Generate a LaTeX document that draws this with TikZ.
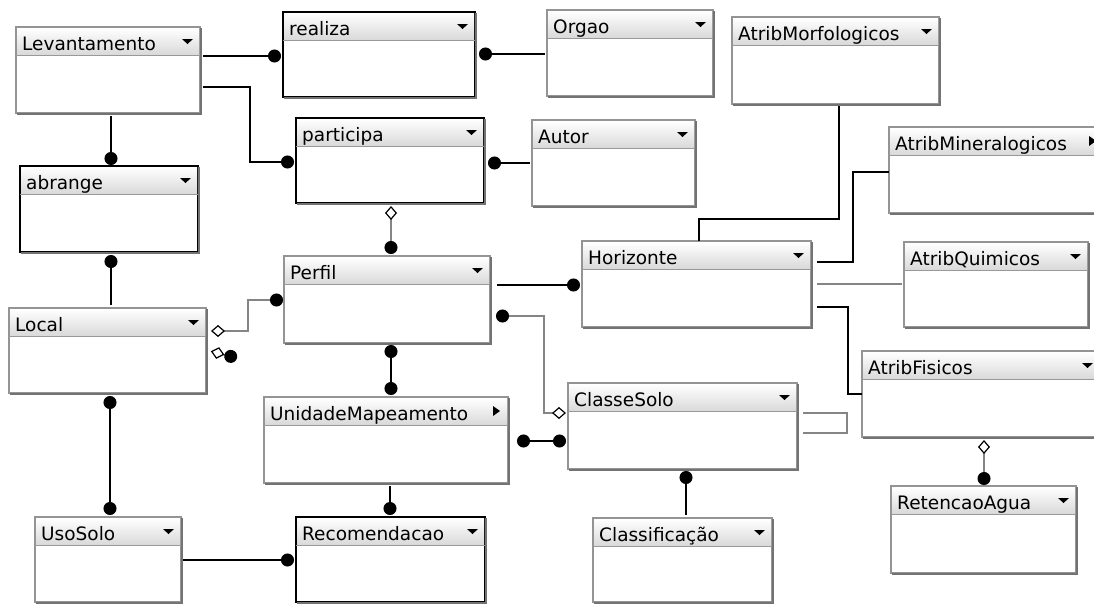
\documentclass[tikz,border=0pt]{standalone}
\usepackage{fontspec}
\setmainfont{DejaVu Sans}
\usetikzlibrary{arrows.meta,calc}
\tikzset{
  x=1pt, y=-1pt,
  Dt/.tip={Circle[length=13pt,color=black,fill=black]},
  Dm/.tip={Diamond[length=14pt,width=12pt,line width=1.2pt,color=black,fill=white]},
  bl/.style={draw=black, line width=1.4pt},
  gr/.style={draw=black!48, line width=1.3pt},
  ebox/.style={draw=black!42, fill=white, line width=1.4pt, inner sep=0pt, outer sep=0pt},
  rbox/.style={draw=black, fill=white, line width=1.8pt, inner sep=0pt, outer sep=0pt},
  hdrline/.style={draw=black!40, line width=1pt},
  etext/.style={anchor=base west, inner sep=0pt, font=\fontsize{18.5}{22}\selectfont, text=black},
}
\newcommand\entbox[7]{%
  \node[#7, anchor=north west, minimum width={(#4)-(#2)}, minimum height={(#5)-(#3)}] (#1) at (#2,#3) {};
  \shade[top color=white, bottom color=black!15] ([shift={(1pt,-1pt)}]#1.north west) rectangle ([shift={(-1pt,-28pt)}]#1.north east);
  \draw[hdrline] ([yshift=-28pt]#1.north west) -- ([yshift=-28pt]#1.north east);
  \draw[black!55, line width=2.2pt] ([shift={(1pt,-1pt)}]#1.north east) -- ([shift={(1pt,-1pt)}]#1.south east) -- ([shift={(1pt,-1pt)}]#1.south west);
  \node[etext] (#1t) at ([shift={(6pt,-23pt)}]#1.north west) {#6};
}
\newcommand\tridown[1]{\fill ([xshift=-18pt,yshift=-12pt]#1.north east) -- ++(11,0) -- ++(-5.5,5) -- cycle;}
\newcommand\triright[1]{\fill ([xshift=-15pt,yshift=-9pt]#1.north east) -- ++(7,5) -- ++(-7,5) -- cycle;}
\begin{document}
\begin{tikzpicture}
\useasboundingbox (0,0) rectangle (1094,603);
\fill[white] (0,0) rectangle (1094,603);
\clip (0,0) rectangle (1094,603);

% entities
\entbox{lev}{16}{27}{200}{113}{Levantamento}{ebox}\tridown{lev}
\entbox{real}{283}{12}{475}{97}{realiza}{rbox}\tridown{real}
\entbox{org}{547}{10}{713}{96}{Orgao}{ebox}\tridown{org}
\entbox{part}{296}{118}{484}{203}{participa}{rbox}\tridown{part}
\entbox{aut}{532}{120}{695}{206}{Autor}{ebox}\tridown{aut}
\entbox{mor}{732}{17}{939}{104}{AtribMorfologicos}{ebox}\tridown{mor}
\entbox{min}{889}{127}{1104}{213}{AtribMineralogicos}{ebox}\triright{min}
\entbox{abr}{20}{166}{198}{252}{abrange}{rbox}\tridown{abr}
\entbox{loc}{9}{308}{206}{393}{Local}{ebox}\tridown{loc}
\entbox{perf}{284}{256}{490}{343}{Perfil}{ebox}\tridown{perf}
\entbox{hor}{582}{241}{811}{327}{Horizonte}{ebox}\tridown{hor}
\entbox{qui}{904}{242}{1088}{327}{AtribQuimicos}{ebox}\tridown{qui}
\entbox{fis}{862}{351}{1100}{437}{AtribFisicos}{ebox}\tridown{fis}
\entbox{um}{264}{397}{508}{483}{UnidadeMapeamento}{ebox}\triright{um}
\entbox{cls}{568}{383}{797}{469}{ClasseSolo}{ebox}\tridown{cls}
\entbox{ret}{891}{486}{1076}{573}{RetencaoAgua}{ebox}\tridown{ret}
\entbox{uso}{35}{517}{181}{602}{UsoSolo}{ebox}\tridown{uso}
\entbox{rec}{296}{517}{485}{602}{Recomendacao}{rbox}\tridown{rec}
\entbox{clf}{593}{518}{772}{602}{Classificação}{ebox}\tridown{clf}

% connectors
\draw[bl, -Dt, shorten <=3pt, shorten >=2pt] (lev.east |- 0,56) -- (real.west |- 0,56);
\draw[bl, -Dt, shorten <=3pt, shorten >=2pt] (lev.east |- 0,87) -- (250,87) -- (250,162) -- (part.west |- 0,162);
\draw[bl, Dt-, shorten <=4pt, shorten >=2pt] (real.east |- 0,54) -- (org.west |- 0,54);
\draw[bl, Dt-, shorten <=4pt, shorten >=2pt] (part.east |- 0,163) -- (aut.west |- 0,163);
\draw[gr, Dm-Dt, shorten <=3pt, shorten >=2pt] (part.south -| 391,0) -- (perf.north -| 391,0);
\draw[bl, -Dt, shorten <=3pt, shorten >=1pt] (lev.south -| 111,0) -- (abr.north -| 111,0);
\draw[bl, Dt-, shorten <=3pt, shorten >=3pt] (abr.south -| 111,0) -- (loc.north -| 111,0);
\draw[gr, Dm-Dt, shorten <=5pt, shorten >=1pt] (loc.east |- 0,331) -- (248,331) -- (248,300) -- (perf.west |- 0,300);
\draw[gr, Dm-Dt, shorten <=5pt] (loc.east |- 0,350) -- (237,358);
\draw[bl, Dt-Dt, shorten <=3pt, shorten >=2pt] (loc.south -| 110,0) -- (uso.north -| 110,0);
\draw[bl, -Dt, shorten <=2pt, shorten >=2pt] (uso.east |- 0,560) -- (rec.west |- 0,560);
\draw[bl, -Dt, shorten <=3pt, shorten >=2pt] (um.south -| 390,0) -- (rec.north -| 390,0);
\draw[bl, Dt-Dt, shorten <=2pt, shorten >=2pt] (perf.south -| 391,0) -- (um.north -| 391,0);
\draw[bl, -Dt, shorten <=7pt, shorten >=2pt] (perf.east |- 0,285) -- (hor.west |- 0,285);
\draw[gr, Dt-Dm, shorten <=6pt, shorten >=2pt] (perf.east |- 0,316) -- (544,316) -- (544,413) -- (cls.west |- 0,413);
\draw[bl, Dt-Dt, shorten <=9pt, shorten >=2pt] (um.east |- 0,441) -- (cls.west |- 0,441);
\draw[bl, Dt-, shorten <=2pt, shorten >=3pt] (cls.south -| 686,0) -- (clf.north -| 686,0);
\draw[gr, shorten <=6pt, shorten >=6pt] (cls.east |- 0,413) -- (847,413) -- (847,433) -- (cls.east |- 0,433);
\draw[bl, shorten >=2pt] (hor.north -| 699,0) -- (699,219) -- (839,219) -- (mor.south -| 839,0);
\draw[bl, shorten <=6pt] (hor.east |- 0,262) -- (853,262) -- (853,172) -- (min.west |- 0,172);
\draw[gr, shorten <=6pt, shorten >=2pt] (hor.east |- 0,284) -- (qui.west |- 0,284);
\draw[bl, shorten <=6pt] (hor.east |- 0,307) -- (848,307) -- (848,394) -- (fis.west |- 0,394);
\draw[gr, Dm-Dt, shorten <=3pt, shorten >=1pt] (fis.south -| 984,0) -- (ret.north -| 984,0);
\end{tikzpicture}
\end{document}
